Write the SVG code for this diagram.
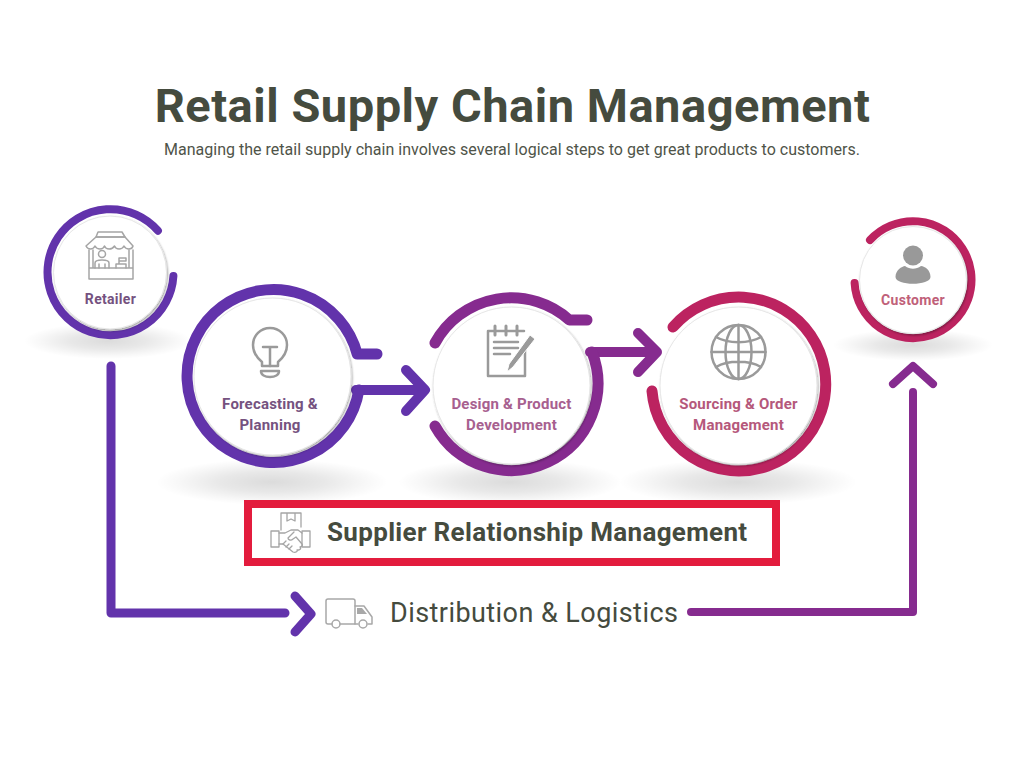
<svg xmlns="http://www.w3.org/2000/svg" width="1024" height="768" viewBox="0 0 1024 768">
<style>
text{font-family:Roboto,"Liberation Sans",sans-serif}
.lab{font-weight:700;text-anchor:middle;font-size:15px;letter-spacing:.2px}
.sm{font-size:14px;letter-spacing:.3px}
.c1{stroke:#6233AB}.c2{stroke:#862B8F}.c3{stroke:#BC2360}
.ring,.conn{fill:none;stroke-linecap:round;stroke-linejoin:round}
.ic{fill:none;stroke:#9a9a9a;stroke-width:2;stroke-linejoin:round;stroke-linecap:round}
.ict{fill:none;stroke:#a5a5a5;stroke-width:1.3;stroke-linejoin:round;stroke-linecap:round}
.disc{fill:#fff;stroke:#e6e6e6;stroke-width:1;filter:url(#ds)}
</style>
<defs>
<radialGradient id="sh"><stop offset="0" stop-color="#000" stop-opacity=".14"/><stop offset=".45" stop-color="#000" stop-opacity=".09"/><stop offset=".8" stop-color="#000" stop-opacity=".03"/><stop offset="1" stop-color="#000" stop-opacity="0"/></radialGradient>
<filter id="ds" x="-10%" y="-10%" width="120%" height="120%"><feDropShadow dx="1" dy="1.500" stdDeviation="1" flood-color="#000" flood-opacity=".35"/></filter>
</defs>
<rect width="1024" height="768" fill="#fff"/>
<text id="title" x="512.500" y="122" text-anchor="middle" font-size="47" font-weight="700" letter-spacing=".52" fill="#454B3E">Retail Supply Chain Management</text>
<text id="subtitle" x="512" y="155" text-anchor="middle" font-size="16" letter-spacing=".01" fill="#4f5449">Managing the retail supply chain involves several logical steps to get great products to customers.</text>

<g id="shadows">
<ellipse cx="108" cy="341" rx="84" ry="18" fill="url(#sh)"/>
<ellipse cx="272" cy="482" rx="116" ry="23" fill="url(#sh)"/>
<ellipse cx="510" cy="482" rx="112" ry="23" fill="url(#sh)"/>
<ellipse cx="738" cy="482" rx="119" ry="23" fill="url(#sh)"/>
<ellipse cx="913" cy="345" rx="80" ry="16" fill="url(#sh)"/>
</g>

<g id="connectors">
<path class="conn c1" stroke-width="9" d="M111 366V613H285"/>
<path class="conn c1" stroke-width="9" d="M295 596L311 614L295 632"/>
<path class="conn c2" stroke-width="8" d="M691 612H913V392"/>
<path class="conn c2" stroke-width="8" d="M893 384L913 366L933 384"/>
<path class="conn c1" stroke-width="10" d="M356 390H424"/>
<path class="conn c1" stroke-width="10" d="M406 370L425 390L406 411"/>
<path class="conn c2" stroke-width="10" d="M590 352H656"/>
<path class="conn c2" stroke-width="10" d="M638 333L657 352L638 372"/>
</g>

<g id="retailer">
<path class="ring c1" stroke-width="8" d="M173.400 276A63 63 0 1 1 157.900 230.700"/>
<circle class="disc" cx="110" cy="272.500" r="56.500"/>
<g class="ict" style="stroke-width:1.500">
<path d="M96 237L98 232H122L125 237Z"/>
<path d="M96 237H125L133 246C132 250 126 250 124 246C122 250 116 250 114.500 246C112 250 106 250 104.500 246C103 250 97 250 95 246C93 250 88 250 86 246Z"/>
<path d="M89 250V279H133V250M93 250V268M129 250V268M89 268H133"/>
<circle cx="102" cy="254" r="3.500"/>
<path d="M95 268V263C95 259 109 259 109 263V268M99 268V264M105 268V264"/>
<path d="M116 268V264H126V268M119 264V261M119 258H126V261H119Z"/>
</g>
<text class="lab sm" x="110.500" y="304" fill="#75527F">Retailer</text>
</g>

<g id="forecasting">
<path class="ring c1" stroke-width="11" d="M358.900 390A86.500 86.500 0 1 1 357.200 354H377"/>
<circle class="disc" cx="272.500" cy="376.500" r="78.500"/>
<g class="ic" style="stroke-width:2.500">
<path d="M262 362C256 357 253 351 253 345A17 17 0 0 1 287 345C287 351 284 357 278 362V366H262Z"/>
<path d="M263 347H277M270 347V366"/>
<path d="M261 371H279C279 375 275 377 270 377C265 377 261 375 261 371Z"/>
</g>
<text class="lab" x="270" y="409" fill="#75527F">Forecasting &amp;</text>
<text class="lab" x="270" y="430" fill="#75527F">Planning</text>
</g>

<g id="design">
<path class="ring c2" stroke-width="11" d="M435 343A87 87 0 0 1 569.300 320H587"/>
<path class="ring c2" stroke-width="11" d="M592 352A87 87 0 0 1 435 426"/>
<circle class="disc" cx="511.500" cy="385.500" r="78.500"/>
<g class="ic" style="stroke-width:2.500">
<path d="M525 350V376H488V331H524"/>
<path d="M495 326V335M506 326V335M517 326V335" stroke-width="3"/>
<path d="M494 342H518M494 348H518M494 354H510"/>
</g>
<path d="M530 335L535 339L513 367L507 372L509 364Z" fill="#9a9a9a" stroke="#fff" stroke-width="1"/>
<text class="lab" x="511.500" y="409" fill="#A7608F">Design &amp; Product</text>
<text class="lab" x="511.500" y="430" fill="#A7608F">Development</text>
</g>

<g id="sourcing">
<path class="ring c3" stroke-width="11" d="M673 327A87 87 0 1 1 652 391"/>
<circle class="disc" cx="738.500" cy="385.500" r="78.500"/>
<g class="ic" style="stroke-width:2.500">
<circle cx="738.500" cy="352" r="27"/>
<ellipse cx="738.500" cy="352" rx="13" ry="27"/>
<path d="M738.500 325V379M711.500 352H765.500M716 337C728 344 749 344 761 337M716 367C728 360 749 360 761 367"/>
</g>
<text class="lab" x="738.500" y="409" fill="#B5587B">Sourcing &amp; Order</text>
<text class="lab" x="738.500" y="430" fill="#B5587B">Management</text>
</g>

<g id="customer">
<path class="ring c3" stroke-width="8" d="M870 240A58.500 58.500 0 1 1 854.600 283"/>
<circle class="disc" cx="913" cy="280" r="53.500"/>
<circle cx="913" cy="255.500" r="10" fill="#999"/>
<path d="M895.500 277C895.500 270 902 266.500 905 266C910 269.500 916 269.500 921 266C925 266.500 930.500 270 930.500 277C930.500 286 895.500 286 895.500 277Z" fill="#999"/>
<text class="lab sm" x="913" y="305" fill="#BF6079">Customer</text>
</g>

<g id="supplier">
<rect x="248" y="504" width="528" height="58" fill="#fff" stroke="#E31C3D" stroke-width="8"/>
<g class="ict">
<path d="M281 530V513H301V527M287 513V521L291 519L295 521V513"/>
<path d="M271 531H279V547H271ZM310 531H302V547H310Z"/>
<path d="M279 533H285L291 530H298L302 533M279 544L283 544L293 552C296 553 298 551 297 550L299 550C301 549 301 548 300 547C302 547 303 545 302 544M294 532L288 538C288 540 291 541 293 539L296 537L302 544"/>
<path d="M283 544L286 541M286 547L289 544M289 549L292 546"/>
</g>
<text x="327" y="541" font-size="26" font-weight="700" letter-spacing=".33" fill="#454B3E">Supplier Relationship Management</text>
</g>

<g id="distribution">
<g class="ict" style="stroke:#a8a8a8;stroke-width:1.500">
<path d="M332 624H328Q326 624 326 622V601Q326 599 328 599H353Q355 599 355 601V624H340"/>
<path d="M355 606H364L372 617V624H368M358 624H355"/>
<circle cx="336" cy="624" r="4"/>
<circle cx="363" cy="624" r="4"/>
</g>
<path d="M357 608H362L367 614H357Z" fill="#a8a8a8"/>
<text x="390" y="622" font-size="27" letter-spacing=".44" fill="#454B3E">Distribution &amp; Logistics</text>
</g>
</svg>
